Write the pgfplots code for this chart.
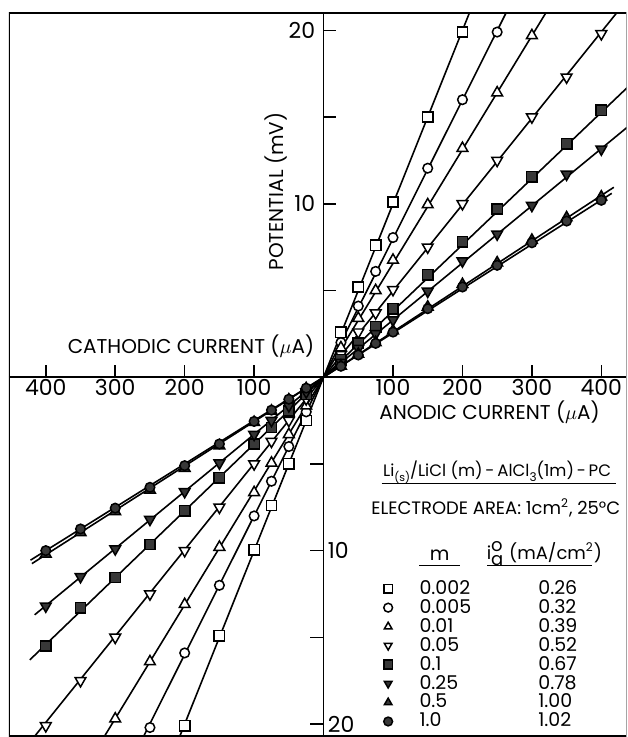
\documentclass[border=0pt]{standalone}
\usepackage{pgfplots}
\pgfplotsset{compat=1.18}
\usepackage{pgfplotstable}
\usepackage{fontspec}
\setmainfont{Poppins}

% current (uA) vs potential (mV), cathodic side negative
\pgfplotstableread{
x y
-200 -20.1
-150 -14.9
-100 -9.95
-75 -7.4
-50 -5.0
-25 -2.5
25 2.6
50 5.2
75 7.6
100 10.1
150 15.0
200 19.9
}\dataA
\pgfplotstableread{
x y
-250 -20.2
-200 -15.9
-150 -12.0
-100 -8.0
-75 -6.0
-50 -4.0
-25 -2.0
25 2.0
50 4.1
75 6.1
100 8.05
150 12.05
200 16.0
250 19.9
}\dataB
\pgfplotstableread{
x y
-300 -19.7
-250 -16.4
-200 -13.1
-150 -9.8
-100 -6.65
-75 -4.95
-50 -3.3
-25 -1.65
25 1.7
50 3.4
75 5.0
100 6.75
150 9.95
200 13.2
250 16.4
300 19.7
}\dataC
\pgfplotstableread{
x y
-400 -20.1
-350 -17.5
-300 -15.0
-250 -12.5
-200 -10.0
-150 -7.5
-100 -5.0
-75 -3.7
-50 -2.5
-25 -1.25
25 1.3
50 2.6
75 3.7
100 5.05
150 7.5
200 10.0
250 12.5
300 15.0
350 17.3
400 19.8
}\dataD
\pgfplotstableread{
x y
-400 -15.5
-350 -13.3
-300 -11.55
-250 -9.65
-200 -7.7
-150 -5.8
-100 -3.85
-75 -2.9
-50 -1.95
-25 -1.0
25 1.0
50 1.95
75 2.9
100 3.95
150 5.9
200 7.8
250 9.7
300 11.55
350 13.45
400 15.4
}\dataE
\pgfplotstableread{
x y
-400 -13.2
-350 -11.5
-300 -9.9
-250 -8.2
-200 -6.6
-150 -4.95
-100 -3.3
-75 -2.5
-50 -1.65
-25 -0.85
25 0.85
50 1.65
75 2.5
100 3.3
150 4.95
200 6.7
250 8.25
300 9.9
350 11.7
400 13.15
}\dataF
\pgfplotstableread{
x y
-400 -10.2
-350 -8.95
-300 -7.75
-250 -6.5
-200 -5.25
-150 -3.95
-100 -2.6
-75 -1.95
-50 -1.3
-25 -0.65
25 0.65
50 1.33
75 2.0
100 2.68
150 4.05
200 5.35
250 6.6
300 7.9
350 9.2
400 10.4
}\dataG
\pgfplotstableread{
x y
-400 -10.0
-350 -8.75
-300 -7.55
-250 -6.35
-200 -5.1
-150 -3.85
-100 -2.55
-75 -1.9
-50 -1.27
-25 -0.63
25 0.63
50 1.28
75 1.95
100 2.6
150 3.95
200 5.2
250 6.45
300 7.75
350 9.0
400 10.2
}\dataH

\begin{document}
\begin{tikzpicture}
\begin{axis}[name=ax,
    scale only axis,
    width=309pt, height=362pt,
    xmin=-453, xmax=436, ymin=-20.7, ymax=21,
    axis lines=center,
    axis line style={line width=0.8pt, -},
    xtick={-400,-300,-200,-100,100,200,300,400},
    xticklabels={400,300,200,100,100,200,300,400},
    ytick=\empty,
    tick align=inside,
    major tick length=6pt,
    tick style={line width=0.8pt, black},
    xticklabel style={font=\fontsize{11}{12}\selectfont, inner sep=1pt},
    legend style={draw=none, fill=none, at={(axis cs:77.5,-11.45)}, anchor=north west,
        font=\fontsize{9.5}{10}\selectfont, row sep=1pt, column sep=13.5pt,
        nodes={inner sep=0pt}},
    legend cell align=left,
    legend image code/.code={\draw[#1, mark size=2.2pt] plot coordinates {(0.1cm,0cm)};},
    ]
% fitted lines
\addplot[line width=0.8pt, forget plot] coordinates {(-212,-21.2) (0,0) (212,21.2)};
\addplot[line width=0.8pt, forget plot] coordinates {(-264,-21.1) (0,0) (264,21.1)};
\addplot[line width=0.8pt, forget plot] coordinates {(-320,-21.0) (0,0) (320,21.0)};
\addplot[line width=0.8pt, forget plot] coordinates {(-424,-21.1) (0,0) (424,21.1)};
\addplot[line width=0.8pt, forget plot] coordinates {(-423,-16.3) (0,0) (440,16.8)};
\addplot[line width=0.8pt, forget plot] coordinates {(-416,-13.7) (0,0) (440,14.5)};
\addplot[line width=0.8pt, forget plot] coordinates {(-420,-10.75) (0,0) (418,10.95)};
\addplot[line width=0.8pt, forget plot] coordinates {(-422,-10.55) (0,0) (415,10.6)};
% measured points
\addplot[only marks, mark=square*, mark size=2.6pt, mark options={fill=white, line width=0.75pt}] table {\dataA};
\addlegendentry{\makebox[59.5pt][l]{0.002}0.26}
\addplot[only marks, mark=*, mark size=2.4pt, mark options={fill=white, line width=0.75pt}] table {\dataB};
\addlegendentry{\makebox[59.5pt][l]{0.005}0.32}
\addplot[only marks, mark=triangle*, mark size=3.1pt, mark options={fill=white, line width=0.75pt}] table {\dataC};
\addlegendentry{\makebox[59.5pt][l]{0.01}0.39}
\addplot[only marks, mark=triangle*, mark size=3.1pt, mark options={fill=white, rotate=180, line width=0.75pt}] table {\dataD};
\addlegendentry{\makebox[59.5pt][l]{0.05}0.52}
\addplot[only marks, mark=square*, mark size=2.6pt, mark options={fill=black!78, line width=0.75pt}] table {\dataE};
\addlegendentry{\makebox[59.5pt][l]{0.1}0.67}
\addplot[only marks, mark=triangle*, mark size=3.1pt, mark options={fill=black!80, rotate=180, line width=0.75pt}] table {\dataF};
\addlegendentry{\makebox[59.5pt][l]{0.25}0.78}
\addplot[only marks, mark=triangle*, mark size=3.1pt, mark options={fill=black!78, line width=0.75pt}] table {\dataG};
\addlegendentry{\makebox[59.5pt][l]{0.5}1.00}
\addplot[only marks, mark=*, mark size=2.4pt, mark options={fill=black!78, line width=0.75pt}] table {\dataH};
\addlegendentry{\makebox[59.5pt][l]{1.0}1.02}

% y ticks and labels
\draw[line width=0.8pt] (axis cs:0,5) -- ([xshift=6pt]axis cs:0,5);
\draw[line width=0.8pt] (axis cs:0,10) -- ([xshift=6pt]axis cs:0,10);
\draw[line width=0.8pt] (axis cs:0,15) -- ([xshift=6pt]axis cs:0,15);
\draw[line width=0.8pt] (axis cs:0,20) -- ([xshift=6pt]axis cs:0,20);
\draw[line width=0.8pt] (axis cs:0,-5) -- ([xshift=-7pt]axis cs:0,-5);
\draw[line width=0.8pt] (axis cs:0,-10) -- ([xshift=-7pt]axis cs:0,-10);
\draw[line width=0.8pt] (axis cs:0,-15) -- ([xshift=-7pt]axis cs:0,-15);
\draw[line width=0.8pt] (axis cs:0,-20) -- ([xshift=-7pt]axis cs:0,-20);
\begin{scope}[font=\fontsize{11}{12}\selectfont]
\node[anchor=east, inner sep=0pt, xshift=-4pt] at (axis cs:0,20) {20};
\node[anchor=east, inner sep=0pt, xshift=-4pt] at (axis cs:0,10) {10};
\node[anchor=west, inner sep=0pt, xshift=2pt] at (axis cs:0,-10) {10};
\node[anchor=west, inner sep=0pt, xshift=2pt] at (axis cs:0,-20) {20};
\end{scope}
\begin{scope}[font=\fontsize{10}{12}\selectfont]
\node[rotate=90] at (axis cs:-69,10.7) {POTENTIAL (mV)};
\node at (axis cs:-191,1.78) {CATHODIC CURRENT ($\mu$A)};
\node at (axis cs:239,-2.0) {ANODIC CURRENT ($\mu$A)};
\end{scope}
% legend headings
\node[anchor=base, font=\fontsize{8.3}{10}\selectfont] at (axis cs:250,-5.75)
    {Li\raisebox{-0.45ex}{\fontsize{5.5}{6}\selectfont(s)}/LiCl (m)\,-\,AlCl\raisebox{-0.45ex}{\fontsize{6}{6}\selectfont 3}(1m)\,-\,PC};
\draw[line width=0.6pt] (axis cs:83.5,-6.15) -- (axis cs:421,-6.15);
\node[font=\fontsize{9}{10}\selectfont] at (axis cs:248,-7.53) {ELECTRODE AREA: 1cm\textsuperscript{2}, 25°C};
\node[anchor=base, font=\fontsize{9.5}{10}\selectfont] at (axis cs:167,-10.55) {m};
\draw[line width=0.6pt] (axis cs:138,-10.85) -- (axis cs:196,-10.85);
\node[anchor=base, font=\fontsize{9}{10}\selectfont] at (axis cs:318,-10.5) {i$^{\textnormal{o}}_{\textnormal{a}}$ (mA/cm\textsuperscript{2})};
\draw[line width=0.6pt] (axis cs:236,-10.85) -- (axis cs:387,-10.85);
\draw[line width=0.8pt] (rel axis cs:0,0) rectangle (rel axis cs:1,1);
\end{axis}
\path ([xshift=-4.5pt]ax.south west) -- ([yshift=6.5pt]ax.north east);
\end{tikzpicture}
\end{document}
